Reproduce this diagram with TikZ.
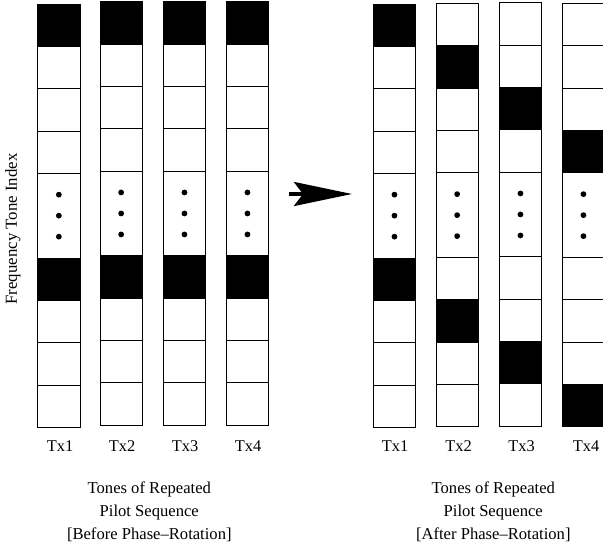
\documentclass[tikz,border=0pt]{standalone}
\usepackage{fontspec}
\setmainfont{Liberation Serif}
\usetikzlibrary{arrows.meta}
\def\cellh{42.33}
\def\cellw{42.3}
\tikzset{
  colbox/.style={draw=black, line width=0.9pt, inner sep=0pt, outer sep=0pt,
    minimum width=\cellw pt, minimum height=10*\cellh pt, anchor=north west},
  sepline/.style={draw=black, line width=0.9pt},
  blackcell/.style={fill=black},
  dotmark/.style={fill=black},
  txlabel/.style={font=\fontsize{16.4}{19}\selectfont, anchor=base, inner sep=0pt},
  caption/.style={font=\fontsize{16.6}{23.1}\selectfont, align=center, anchor=north, inner sep=0pt},
  axislabel/.style={font=\fontsize{16.8}{19}\selectfont, anchor=base, rotate=90, inner sep=0pt},
  bigarrow/.style={line width=3.6pt, -{Stealth[length=58pt, width=24pt, inset=9pt]}}
}
% #1 name, #2 left x, #3 top y, #4 list of black unit cells
\newcommand\pilotcol[4]{%
  \foreach \b in {#4} \fill[blackcell] (#2,#3+\b*\cellh) rectangle (#2+\cellw,#3+\b*\cellh+\cellh);
  \node[colbox] (#1) at (#2,#3) {};
  \foreach \k in {1,2,3,4,6,7,8,9} \draw[sepline] (#2,#3+\k*\cellh) -- (#2+\cellw,#3+\k*\cellh);
  \foreach \d in {-21,0,21} \fill[dotmark] (#2+\cellw/2,#3+5*\cellh+\d) circle[radius=2.9pt];
}
\begin{document}
\begin{tikzpicture}[x=1pt,y=-1pt]
\useasboundingbox (0,0) rectangle (603,546);
\clip (0,0) rectangle (603,546);
% before phase rotation
\pilotcol{La}{37.7}{4}{0,6}
\pilotcol{Lb}{100}{1.8}{0,6}
\pilotcol{Lc}{163.3}{1.8}{0,6}
\pilotcol{Ld}{226.3}{1.8}{0,6}
% after phase rotation
\pilotcol{Ra}{373.3}{4}{0,6}
\pilotcol{Rb}{436}{3.5}{1,7}
\pilotcol{Rc}{499.3}{2.8}{2,8}
\pilotcol{Rd}{562.3}{3.5}{3,9}
% Tx labels
\node[txlabel] (tLa) at (60,451.5) {Tx1};
\node[txlabel] (tLb) at (122,451.5) {Tx2};
\node[txlabel] (tLc) at (185,451.5) {Tx3};
\node[txlabel] (tLd) at (248,451.5) {Tx4};
\node[txlabel] (tRa) at (395,451.5) {Tx1};
\node[txlabel] (tRb) at (458.5,451.5) {Tx2};
\node[txlabel] (tRc) at (521.5,451.5) {Tx3};
\node[txlabel] (tRd) at (586,451.5) {Tx4};
% captions
\node[caption] (capL) at (149.3,481.5) {Tones of Repeated\\Pilot Sequence\\{[}Before Phase--Rotation{]}};
\node[caption] (capR) at (493.3,481.5) {Tones of Repeated\\Pilot Sequence\\{[}After Phase--Rotation{]}};
% axis label
\node[axislabel] (ylab) at (16.8,229) {Frequency Tone Index};
% arrow
\coordinate (arrS) at (289,194);
\coordinate (arrE) at (352,194);
\draw[bigarrow] (arrS) -- (arrE);
\end{tikzpicture}
\end{document}
